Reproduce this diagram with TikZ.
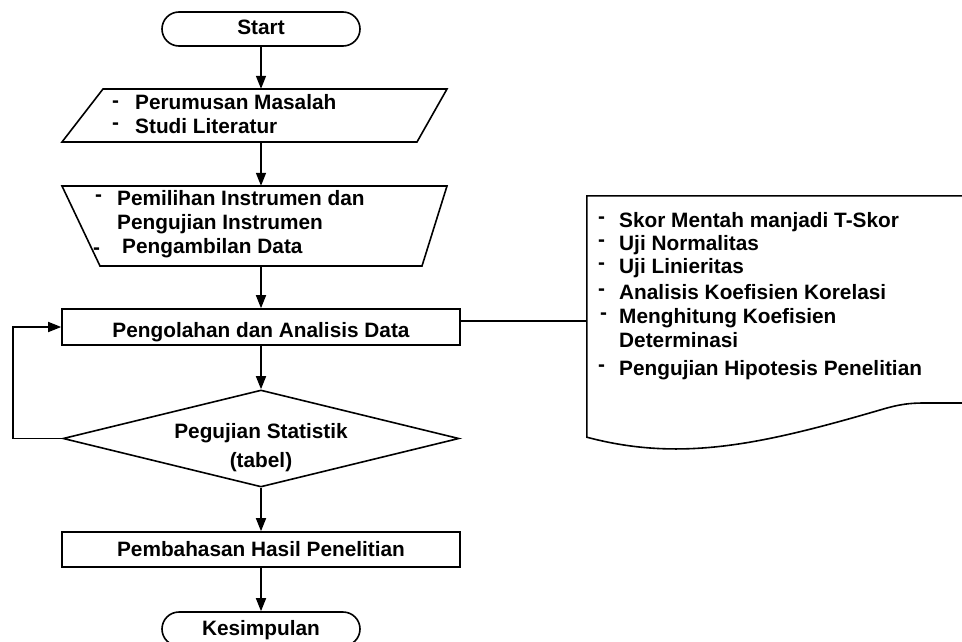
\documentclass[tikz,border=0pt]{standalone}
\usepackage{fontspec}
\setmainfont{Liberation Sans}
\usetikzlibrary{arrows.meta,shapes.geometric}
\begin{document}
\begin{tikzpicture}[x=1pt,y=-1pt,
  every node/.style={font=\fontsize{20.8}{24}\selectfont\bfseries, inner sep=0pt},
  ln/.style={line width=1.6pt, line join=miter},
  arr/.style={ln, -{Triangle[width=10pt,length=13pt]}},
  term/.style={draw, ln, rounded corners=17pt, minimum width=198pt, minimum height=34pt},
  proc/.style={draw, ln, rectangle, minimum width=398pt},
  ghost/.style={draw=none, minimum width=300pt},
  lbl/.style={anchor=base west},
  dsh/.style={anchor=base west},
  ctr/.style={anchor=base},
]
\useasboundingbox (0,0) rectangle (962,642);

% terminals and processes
\node[term, text height=12pt, text depth=0pt] (start) at (261,29) {Start};
\node[ghost, minimum height=53pt] (p1) at (261,115.5) {};
\node[ghost, minimum height=80pt] (p2) at (261,226) {};
\node[proc, minimum height=36pt, text height=20pt, text depth=0pt] (pb) at (261,327) {Pengolahan dan Analisis Data};
\node[diamond, draw, ln, minimum width=396pt, minimum height=97pt] (dia) at (261,438.5) {};
\node[proc, minimum height=35pt, text height=13pt, text depth=0pt] (ph) at (261,549.5) {Pembahasan Hasil Penelitian};
\node[term, text height=12pt, text depth=0pt] (end) at (261,629) {Kesimpulan};
\node[draw=none, minimum width=375pt, minimum height=241pt] (rb) at (774.5,316.5) {};

% outlines of input and manual-operation shapes
\draw[ln] (103,89) -- (447,89) -- (417,142) -- (62,142) -- cycle;
\draw[ln] (62,186) -- (447,186) -- (422,266) -- (100,266) -- cycle;
% document shape
\draw[ln] (rb.north east) -- (rb.north west) -- (rb.south west)
  .. controls (680,462) and (760,445) .. (880,410)
  .. controls (900,404) and (910,403) .. (925,403) -- (962,403);

% texts of parallelogram
\node[dsh] (d1a) at (112,107) {-};
\node[lbl] (t1a) at (135,110) {Perumusan Masalah};
\node[dsh] (d1b) at (112,129) {-};
\node[lbl] (t1b) at (135,133) {Studi Literatur};

% texts of trapezoid
\node[dsh] (d2a) at (95,201) {-};
\node[lbl] (t2a) at (117,205) {Pemilihan Instrumen dan};
\node[lbl] (t2b) at (117,229) {Pengujian Instrumen};
\node[dsh] (d2c) at (93,254) {-};
\node[lbl] (t2c) at (122,253) {Pengambilan Data};

% texts of diamond
\node[ctr] (ds1) at (261,438) {Pegujian Statistik};
\node[ctr] (ds2) at (261,467) {(tabel)};

% texts of document
\node[dsh] (r1d) at (598,223) {-};
\node[lbl] (r1) at (619,227) {Skor Mentah manjadi T-Skor};
\node[dsh] (r2d) at (598,246) {-};
\node[lbl] (r2) at (619,250) {Uji Normalitas};
\node[dsh] (r3d) at (598,269) {-};
\node[lbl] (r3) at (619,273) {Uji Linieritas};
\node[dsh] (r4d) at (598,295) {-};
\node[lbl] (r4) at (619,299) {Analisis Koefisien Korelasi};
\node[dsh] (r5d) at (600,319) {-};
\node[lbl] (r5) at (619,323) {Menghitung Koefisien};
\node[lbl] (r5b) at (619,347) {Determinasi};
\node[dsh] (r6d) at (598,371) {-};
\node[lbl] (r6) at (619,375) {Pengujian Hipotesis Penelitian};

% connectors
\draw[arr] (start.south) -- (p1.north);
\draw[arr] (p1.south) -- (p2.north);
\draw[arr] (p2.south) -- (pb.north);
\draw[arr] (pb.south) -- (dia.north);
\draw[arr] (dia.south) -- (ph.north);
\draw[arr] (ph.south) -- (end.north);
\coordinate (lp) at (13,438.5);
\draw[arr] (dia.west) -- (lp) |- (pb.west);
\coordinate (rbl) at (587,321);
\draw[ln] (pb.east |- rbl) -- (rbl);
\end{tikzpicture}
\end{document}
